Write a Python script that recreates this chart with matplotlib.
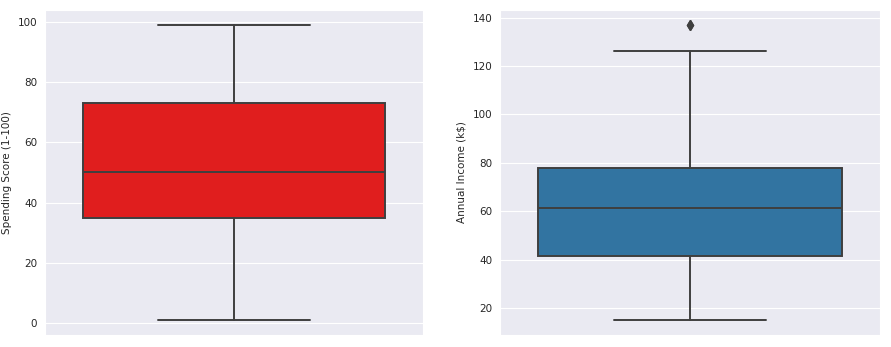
import matplotlib
matplotlib.use("Agg")
import matplotlib.pyplot as plt
import seaborn as sns

sns.set_style("darkgrid")
plt.rcParams["font.family"] = ["DejaVu Sans"]
plt.rcParams["font.size"] = 7.5

# five-number summaries
spending_stats = {"whislo": 1, "q1": 34.75, "med": 50, "q3": 73, "whishi": 99, "fliers": []}
income_stats = {"whislo": 15, "q1": 41.5, "med": 61.5, "q3": 78, "whishi": 126, "fliers": [137, 137]}
labels = ["Spending Score (1-100)", "Annual Income (k$)"]
colors = ["#E01E1E", "#3274A1"]

fig = plt.figure(figsize=(8.91, 3.47), dpi=100)
ax1 = fig.add_axes([0.0505, 0.035, 0.4245, 0.936])
ax2 = fig.add_axes([0.561, 0.035, 0.427, 0.936])

line = dict(color="#3F3F3F", linewidth=1.4)
for ax, st, lab, c in zip([ax1, ax2], [spending_stats, income_stats], labels, colors):
    bp = ax.bxp([st], positions=[0], widths=0.8, patch_artist=True,
                boxprops=dict(facecolor=c, edgecolor="#3F3F3F", linewidth=1.4),
                medianprops=line, whiskerprops=line, capprops=line,
                flierprops=dict(marker="d", markerfacecolor="#3F3F3F",
                                markeredgecolor="#3F3F3F", markersize=5),
                capwidths=0.4)
    ax.set_xlim(-0.5, 0.5)
    ax.set_xticks([])
    ax.set_ylabel(lab)
    ax.tick_params(axis="y", labelsize=7.5, pad=2)

fig.savefig("out.png", dpi=100)
